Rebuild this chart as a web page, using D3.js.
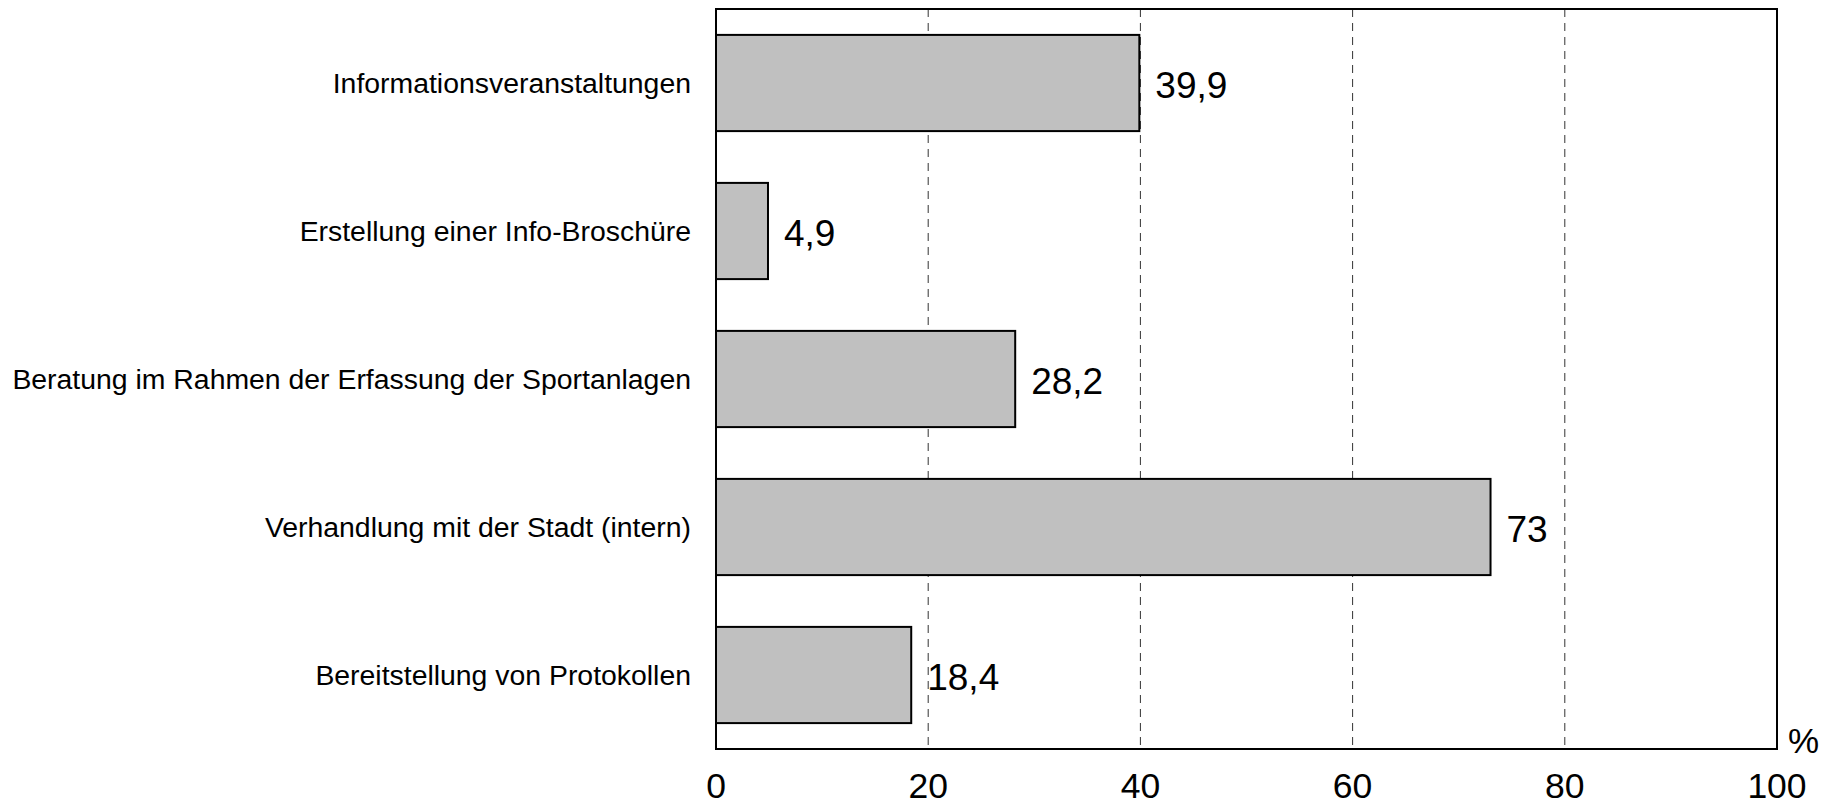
<!DOCTYPE html>
<html>
<head>
<meta charset="utf-8">
<script src="https://cdn.jsdelivr.net/npm/d3@7"></script>
<style>
  body { margin: 0; background: #fff; }
  svg { display: block; font-family: "Liberation Sans", Arial, sans-serif; }
</style>
</head>
<body>
<div id="chart"></div>
<script>
// data
const categories = [
  "Informationsveranstaltungen",
  "Erstellung einer Info-Broschüre",
  "Beratung im Rahmen der Erfassung der Sportanlagen",
  "Verhandlung mit der Stadt (intern)",
  "Bereitstellung von Protokollen"
];
const values = [39.9, 4.9, 28.2, 73, 18.4];
const valueLabels = ["39,9", "4,9", "28,2", "73", "18,4"];
const xTicks = [0, 20, 40, 60, 80, 100];

document.addEventListener('DOMContentLoaded', () => {
  const width = 1833, height = 805;
  const margin = { top: 9, right: 56, bottom: 56, left: 716 };

  const svg = d3.select("#chart").append("svg")
    .attr("width", width)
    .attr("height", height);

  const x = d3.scaleLinear()
    .domain([0, 100])
    .range([margin.left, width - margin.right]);

  const y = d3.scaleBand()
    .domain(categories)
    .range([margin.top, height - margin.bottom])
    .paddingInner(0.35)
    .paddingOuter(0.175);

  // dashed gridlines
  svg.append("g")
    .selectAll("line")
    .data(xTicks.filter(d => d > 0 && d < 100))
    .join("line")
    .attr("x1", d => x(d))
    .attr("x2", d => x(d))
    .attr("y1", margin.top)
    .attr("y2", height - margin.bottom)
    .attr("stroke", "#333")
    .attr("stroke-width", 1)
    .attr("stroke-dasharray", "8,6");

  // bars
  svg.append("g")
    .selectAll("rect")
    .data(values)
    .join("rect")
    .attr("x", x(0))
    .attr("y", (d, i) => y(categories[i]))
    .attr("width", d => x(d) - x(0))
    .attr("height", y.bandwidth())
    .attr("fill", "#c0c0c0")
    .attr("stroke", "#000")
    .attr("stroke-width", 2);

  // value labels
  svg.append("g")
    .selectAll("text")
    .data(values)
    .join("text")
    .attr("x", d => x(d) + 16)
    .attr("y", (d, i) => y(categories[i]) + y.bandwidth() / 2)
    .attr("dy", "0.4em")
    .attr("font-size", 37)
    .attr("fill", "#000")
    .text((d, i) => valueLabels[i]);

  // category labels
  svg.append("g")
    .selectAll("text")
    .data(categories)
    .join("text")
    .attr("x", margin.left - 25)
    .attr("y", d => y(d) + y.bandwidth() / 2)
    .attr("dy", "0.36em")
    .attr("text-anchor", "end")
    .attr("font-size", 28.4)
    .attr("fill", "#000")
    .text(d => d);

  // frame
  svg.append("rect")
    .attr("x", margin.left)
    .attr("y", margin.top)
    .attr("width", x(100) - x(0))
    .attr("height", height - margin.bottom - margin.top)
    .attr("fill", "none")
    .attr("stroke", "#000")
    .attr("stroke-width", 2);

  // x tick labels
  svg.append("g")
    .selectAll("text")
    .data(xTicks)
    .join("text")
    .attr("x", d => x(d))
    .attr("y", 798)
    .attr("text-anchor", "middle")
    .attr("font-size", 35.5)
    .attr("fill", "#000")
    .text(d => d);

  // unit
  svg.append("text")
    .attr("x", x(100) + 11)
    .attr("y", 753)
    .attr("font-size", 35)
    .attr("fill", "#000")
    .text("%");
});
</script>
</body>
</html>
